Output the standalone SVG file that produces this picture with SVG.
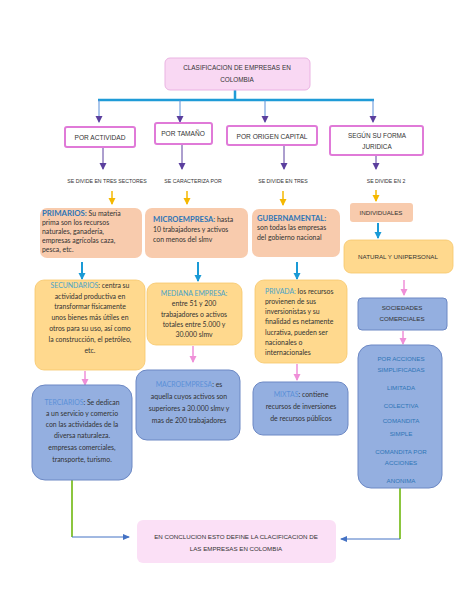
<svg xmlns="http://www.w3.org/2000/svg" width="474" height="613" viewBox="0 0 474 613">
<style>
.hd{font-family:"Liberation Sans",Arial,sans-serif;fill:#333;}
.bd{font-family:Lato,"Liberation Sans",sans-serif;fill:#333;font-size:6.9px;}
.kw{fill:#2e75b6;}
.kw2{fill:#4aa3c8;}
.kw3{fill:#5b8fd8;}
.lst{font-family:"Liberation Sans",Arial,sans-serif;fill:#2e75b6;font-size:6.2px;}
.lvl2{fill:#fff;stroke:#e07ad8;stroke-width:2;}
.peach{fill:#f8cbad;}
.orng{fill:#ffd98e;stroke:#f6c66a;stroke-width:0.8;}
.blue{fill:#94afe0;stroke:#6c88c4;stroke-width:1;}
.drop{stroke:#5b8fd8;stroke-width:1;fill:none;marker-end:url(#aPur);}
.pur{stroke:#5b3f9e;stroke-width:1;fill:none;marker-end:url(#aPur);}
.yel{stroke:#f5b800;stroke-width:1.5;fill:none;marker-end:url(#aYel);}
.blu{stroke:#1a9ad6;stroke-width:2;fill:none;marker-end:url(#aBlu);}
.pnk{stroke:#ef8fd8;stroke-width:1.5;fill:none;marker-end:url(#aPnk);}
.grn{stroke:#8cc63f;stroke-width:2;fill:none;}
.db{stroke:#4472c4;stroke-width:1;fill:none;marker-end:url(#aDb);}
</style>
<defs>
<marker id="aPur" markerWidth="8" markerHeight="8" refX="6" refY="4" orient="auto" markerUnits="userSpaceOnUse"><path d="M0,0.5 L7,4 L0,7.5 Z" fill="#5b3f9e"/></marker>
<marker id="aYel" markerWidth="8" markerHeight="8" refX="6" refY="4" orient="auto" markerUnits="userSpaceOnUse"><path d="M0,0.5 L7,4 L0,7.5 Z" fill="#f5b800"/></marker>
<marker id="aBlu" markerWidth="8" markerHeight="8" refX="6" refY="4" orient="auto" markerUnits="userSpaceOnUse"><path d="M0,0.5 L7,4 L0,7.5 Z" fill="#1a9ad6"/></marker>
<marker id="aPnk" markerWidth="8" markerHeight="8" refX="6" refY="4" orient="auto" markerUnits="userSpaceOnUse"><path d="M0,0.5 L7,4 L0,7.5 Z" fill="#ef8fd8"/></marker>
<marker id="aDb" markerWidth="8" markerHeight="8" refX="6" refY="4" orient="auto" markerUnits="userSpaceOnUse"><path d="M0,1 L7,4 L0,7 Z" fill="#4472c4"/></marker>
</defs>
<rect width="474" height="613" fill="#fff"/>

<g id="connectors">
<path d="M235,90 V100 M98,100 H374" stroke="#1f9bd7" stroke-width="2.5" fill="none"/>
<path class="drop" d="M99,100 V122"/>
<path class="drop" d="M180,100 V122"/>
<path class="drop" d="M265,100 V122"/>
<path class="drop" d="M373,100 V122"/>
<path class="pur" d="M103,148 V169"/>
<path class="pur" d="M182,145 V169"/>
<path class="pur" d="M284,146 V169"/>
<path class="pur" d="M376,156 V169"/>
<path class="yel" d="M112,191 V204"/>
<path class="yel" d="M187,191 V204"/>
<path class="yel" d="M283,191 V205"/>
<path class="yel" d="M376,190 V201"/>
<path class="blu" d="M82,262 V279"/>
<path class="blu" d="M198,262 V281"/>
<path class="blu" d="M297,262 V279"/>
<path class="blu" d="M378,223 V238"/>
<path class="pnk" d="M85,371 V385"/>
<path class="pnk" d="M193,346 V362"/>
<path class="pnk" d="M297,364 V380"/>
<path class="pnk" d="M404,280 V295"/>
<path class="pnk" d="M403,331 V344"/>
<path class="grn" d="M72,480 V537"/>
<path class="db" d="M72,537 H129"/>
<path class="grn" d="M400,488 V539"/>
<path class="db" d="M400,539 H341"/>
</g>

<g id="title">
<rect x="165" y="58" width="145" height="32" rx="5" fill="#f9d8f3" stroke="#eab3e2" stroke-width="1"/>
<text class="hd" font-size="6.4" text-anchor="middle"><tspan x="237" y="70">CLASIFICACION DE EMPRESAS EN</tspan><tspan x="237" y="82">COLOMBIA</tspan></text>
</g>

<g id="por-actividad">
<rect class="lvl2" x="65" y="127" width="70" height="20" rx="2"/>
<text class="hd" font-size="6.6" text-anchor="middle" x="100" y="140">POR ACTIVIDAD</text>
</g>
<g id="por-tamano">
<rect class="lvl2" x="155" y="123" width="57" height="21" rx="2"/>
<text class="hd" font-size="6.6" text-anchor="middle" x="183" y="136">POR TAMAÑO</text>
</g>
<g id="por-origen">
<rect class="lvl2" x="227" y="126" width="90" height="19" rx="2"/>
<text class="hd" font-size="6.6" text-anchor="middle" x="272" y="139">POR ORIGEN CAPITAL</text>
</g>
<g id="segun-forma">
<rect class="lvl2" x="330" y="126" width="93" height="29" rx="2"/>
<text class="hd" font-size="6.4" text-anchor="middle"><tspan x="377" y="138">SEGÚN SU FORMA</tspan><tspan x="377" y="149">JURIDICA</tspan></text>
</g>

<g id="labels">
<text class="hd" font-size="5.2" text-anchor="middle" x="107" y="183">SE DIVIDE EN TRES SECTORES</text>
<text class="hd" font-size="5.2" text-anchor="middle" x="193" y="183">SE CARACTERIZA POR</text>
<text class="hd" font-size="5.2" text-anchor="middle" x="283" y="183">SE DIVIDE EN TRES</text>
<text class="hd" font-size="5.2" text-anchor="middle" x="386" y="183">SE DIVIDE EN 2</text>
</g>

<g id="primarios">
<rect class="peach" x="40" y="208" width="102" height="50" rx="7"/>
<text class="bd"><tspan x="42" y="216"><tspan class="kw" font-weight="bold" font-size="7.8">PRIMARIOS:</tspan> Su materia</tspan><tspan x="42" y="225">prima son los recursos</tspan><tspan x="42" y="234">naturales, ganadería,</tspan><tspan x="42" y="243">empresas agrícolas caza,</tspan><tspan x="42" y="252">pesca, etc.</tspan></text>
</g>
<g id="microempresa">
<rect class="peach" x="145" y="208" width="103" height="50" rx="7"/>
<text class="bd"><tspan x="153" y="222"><tspan class="kw" font-weight="bold" font-size="7.6">MICROEMPRESA:</tspan>  hasta</tspan><tspan x="153" y="232">10 trabajadores y activos</tspan><tspan x="153" y="242">con menos del slmv</tspan></text>
</g>
<g id="gubernamental">
<rect class="peach" x="252" y="209" width="88" height="48" rx="7"/>
<text class="bd"><tspan x="257" y="221" class="kw" font-weight="bold" font-size="7.6">GUBERNAMENTAL:</tspan><tspan x="257" y="230">son todas las empresas</tspan><tspan x="257" y="240">del gobierno nacional</tspan></text>
</g>
<g id="individuales">
<rect class="peach" x="350" y="203" width="63" height="19" rx="3"/>
<text class="hd" font-size="6.2" fill="#555" text-anchor="middle" x="381" y="215">INDIVIDUALES</text>
</g>

<g id="secundarios">
<rect class="orng" x="35" y="280" width="110" height="90" rx="9"/>
<text class="bd" text-anchor="middle"><tspan x="90" y="288"><tspan class="kw2">SECUNDARIOS</tspan>: centra su</tspan><tspan x="90" y="299">actividad productiva en</tspan><tspan x="90" y="309">transformar físicamente</tspan><tspan x="90" y="320">unos bienes más útiles en</tspan><tspan x="90" y="331">otros para su uso, así como</tspan><tspan x="90" y="342">la construcción, el petróleo,</tspan><tspan x="90" y="353">etc.</tspan></text>
</g>
<g id="mediana">
<rect class="orng" x="147" y="283" width="95" height="62" rx="9"/>
<text class="bd" text-anchor="middle"><tspan x="194" y="296" class="kw2">MEDIANA EMPRESA:</tspan><tspan x="194" y="306">entre 51 y 200</tspan><tspan x="194" y="317">trabajadores o activos</tspan><tspan x="194" y="327">totales entre 5.000 y</tspan><tspan x="194" y="337">30.000 slmv</tspan></text>
</g>
<g id="privada">
<rect class="orng" x="255" y="280" width="92" height="83" rx="9"/>
<text class="bd"><tspan x="265" y="294"><tspan class="kw2">PRIVADA:</tspan> los recursos</tspan><tspan x="265" y="304">provienen de sus</tspan><tspan x="265" y="314">inversionistas y su</tspan><tspan x="265" y="324">finalidad es netamente</tspan><tspan x="265" y="335">lucrativa, pueden ser</tspan><tspan x="265" y="345">nacionales o</tspan><tspan x="265" y="355">internacionales</tspan></text>
</g>
<g id="natural">
<rect class="orng" x="344" y="240" width="109" height="33" rx="7"/>
<text class="hd" font-size="6.2" fill="#4a7a8c" text-anchor="middle" x="398" y="259">NATURAL Y UNIPERSONAL</text>
</g>

<g id="terciarios">
<rect class="blue" x="32" y="385" width="100" height="95" rx="13"/>
<text class="bd" text-anchor="middle"><tspan x="82" y="405"><tspan class="kw3">TERCIARIOS</tspan>: Se dedican</tspan><tspan x="82" y="416">a un servicio y comercio</tspan><tspan x="82" y="427">con las actividades de la</tspan><tspan x="82" y="438">diversa naturaleza.</tspan><tspan x="82" y="450">empresas comerciales,</tspan><tspan x="82" y="462">transporte, turismo.</tspan></text>
</g>
<g id="macroempresa">
<rect class="blue" x="136" y="370" width="104" height="70" rx="11"/>
<text class="bd" text-anchor="middle"><tspan x="189" y="387"><tspan class="kw3">MACROEMPRESA</tspan>: es</tspan><tspan x="189" y="399">aquella cuyos activos son</tspan><tspan x="189" y="411">superiores a 30.000 slmv y</tspan><tspan x="189" y="423">mas de 200 trabajadores</tspan></text>
</g>
<g id="mixtas">
<rect class="blue" x="253" y="382" width="95" height="53" rx="10"/>
<text class="bd" text-anchor="middle"><tspan x="301" y="397"><tspan class="kw3">MIXTAS</tspan>: contiene</tspan><tspan x="301" y="409">recursos de inversiones</tspan><tspan x="301" y="421">de recursos públicos</tspan></text>
</g>
<g id="sociedades">
<rect class="blue" x="358" y="298" width="89" height="32" rx="4"/>
<text class="hd" font-size="6.2" fill="#222" text-anchor="middle"><tspan x="402" y="310">SOCIEDADES</tspan><tspan x="402" y="321">COMERCIALES</tspan></text>
</g>
<g id="tipos-sociedades">
<rect class="blue" x="358" y="345" width="84" height="143" rx="13"/>
<text class="lst" text-anchor="middle"><tspan x="401" y="361">POR ACCIONES</tspan><tspan x="401" y="372">SIMPLIFICADAS</tspan><tspan x="401" y="390">LIMITADA</tspan><tspan x="401" y="408">COLECTIVA</tspan><tspan x="401" y="423">COMANDITA</tspan><tspan x="401" y="436">SIMPLE</tspan><tspan x="401" y="454">COMANDITA POR</tspan><tspan x="401" y="465">ACCIONES</tspan><tspan x="401" y="483">ANONIMA</tspan></text>
</g>

<g id="conclusion">
<rect x="137" y="520" width="199" height="43" rx="6" fill="#fbe0f6"/>
<text class="hd" font-size="6.2" text-anchor="middle"><tspan x="236" y="539">EN CONCLUCION ESTO DEFINE LA CLACIFICACION DE</tspan><tspan x="236" y="551">LAS EMPRESAS EN COLOMBIA</tspan></text>
</g>
</svg>
